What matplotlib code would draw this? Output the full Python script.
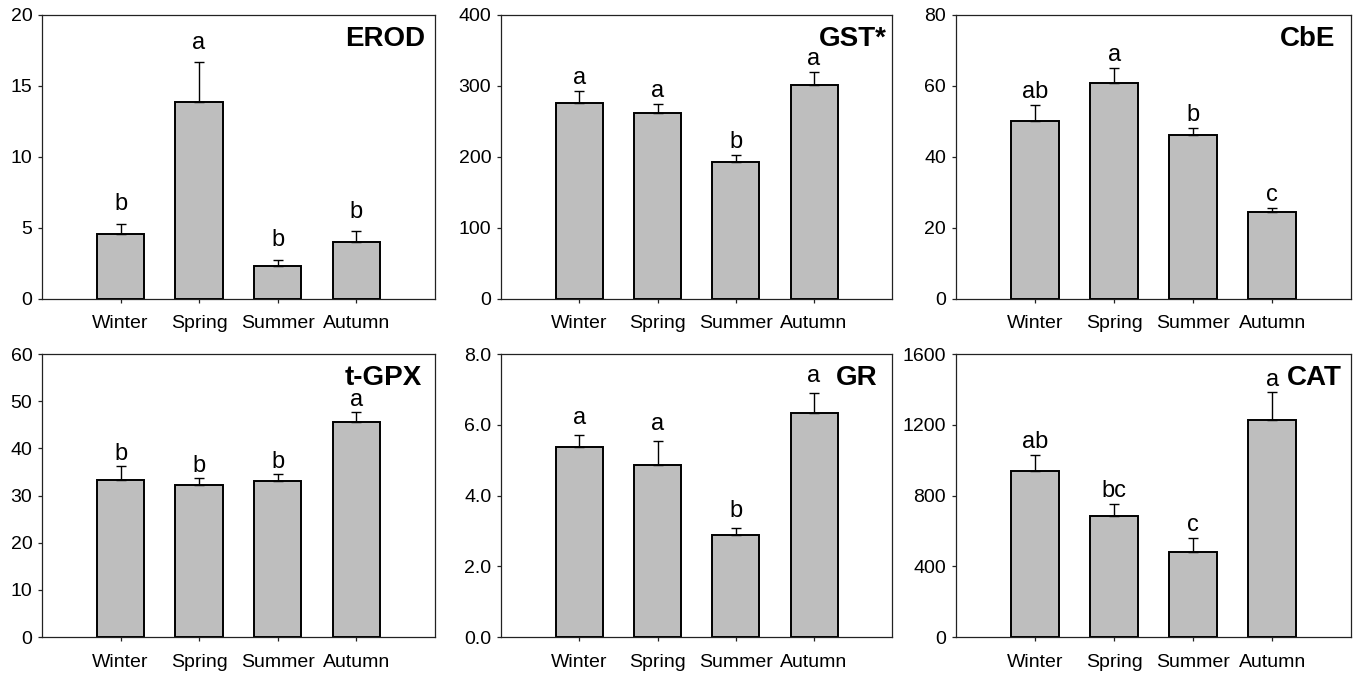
import matplotlib
matplotlib.use("Agg")
import matplotlib.pyplot as plt
import numpy as np

plt.rcParams["font.family"] = ["Liberation Sans", "DejaVu Sans"]

seasons = ["Winter", "Spring", "Summer", "Autumn"]

# panel order: top row left->right, then bottom row
names = ["EROD", "GST*", "CbE", "t-GPX", "GR", "CAT"]

erod_mean = [4.54, 13.84, 2.30, 4.00]
erod_se = [0.75, 2.87, 0.45, 0.75]
erod_letters = ["b", "a", "b", "b"]

gst_mean = [276.4, 262.3, 192.2, 300.8]
gst_se = [16.9, 12.2, 10.8, 18.3]
gst_letters = ["a", "a", "b", "a"]

cbe_mean = [50.2, 60.9, 46.2, 24.3]
cbe_se = [4.3, 4.1, 1.8, 1.3]
cbe_letters = ["ab", "a", "b", "c"]

tgpx_mean = [33.4, 32.2, 33.1, 45.6]
tgpx_se = [2.9, 1.5, 1.4, 2.1]
tgpx_letters = ["b", "b", "b", "a"]

gr_mean = [5.36, 4.85, 2.88, 6.34]
gr_se = [0.35, 0.68, 0.21, 0.55]
gr_letters = ["a", "a", "b", "a"]

cat_mean = [940, 684, 481, 1225]
cat_se = [89, 70, 81, 158]
cat_letters = ["ab", "bc", "c", "a"]

y_max = [20, 400, 80, 60, 8, 1600]
y_step = [5, 100, 20, 10, 2, 400]
y_fmt = ["{:.0f}", "{:.0f}", "{:.0f}", "{:.0f}", "{:.1f}", "{:.0f}"]

means = [erod_mean, gst_mean, cbe_mean, tgpx_mean, gr_mean, cat_mean]
errs = [erod_se, gst_se, cbe_se, tgpx_se, gr_se, cat_se]
letters = [erod_letters, gst_letters, cbe_letters, tgpx_letters, gr_letters, cat_letters]

# layout / style
title_x = [0.975, 0.987, 0.96, 0.967, 0.962, 0.975]
letter_off = [9.4, 5.0, 5.0, 4.5, 8.0, 5.0]
col_left = [0.031, 0.370, 0.706]
col_width = [0.290, 0.289, 0.292]
row_bottom = [0.559, 0.059]
row_height = [0.419, 0.418]

fig = plt.figure(figsize=(13.54, 6.77), dpi=100)

for i, name in enumerate(names):
    r, c = divmod(i, 3)
    ax = fig.add_axes([col_left[c], row_bottom[r], col_width[c], row_height[r]])
    x = np.arange(len(seasons))
    ax.bar(x, means[i], width=0.6, color="#bebebe", edgecolor="black",
           linewidth=1.4, zorder=2)
    ax.errorbar(x, means[i], yerr=[np.zeros(4), errs[i]], fmt="none",
                ecolor="black", elinewidth=1.0, capsize=3.5, capthick=1.0,
                zorder=3)
    for xi, m, e, lab in zip(x, means[i], errs[i], letters[i]):
        ax.annotate(lab, (xi, m + e), xytext=(0, letter_off[i]),
                    textcoords="offset points", ha="center", va="baseline",
                    fontsize=17)

    ax.set_xlim(-1, 4)
    ax.set_ylim(0, y_max[i])
    ticks = np.arange(0, y_max[i] + y_step[i] / 2, y_step[i])
    ax.set_yticks(ticks)
    ax.set_yticklabels([y_fmt[i].format(t) for t in ticks])
    ax.set_xticks(x)
    ax.set_xticklabels(seasons)
    ax.tick_params(axis="both", direction="out", length=3, width=0.9,
                   labelsize=14, color="#222222")
    ax.tick_params(axis="x", pad=9)
    ax.tick_params(axis="y", pad=4)
    for sp in ax.spines.values():
        sp.set_linewidth(0.9)
        sp.set_color("#222222")

    ax.text(title_x[i], 0.89, name, transform=ax.transAxes, ha="right",
            va="baseline", fontsize=20, fontweight="bold")

fig.savefig("out.png", dpi=100)
